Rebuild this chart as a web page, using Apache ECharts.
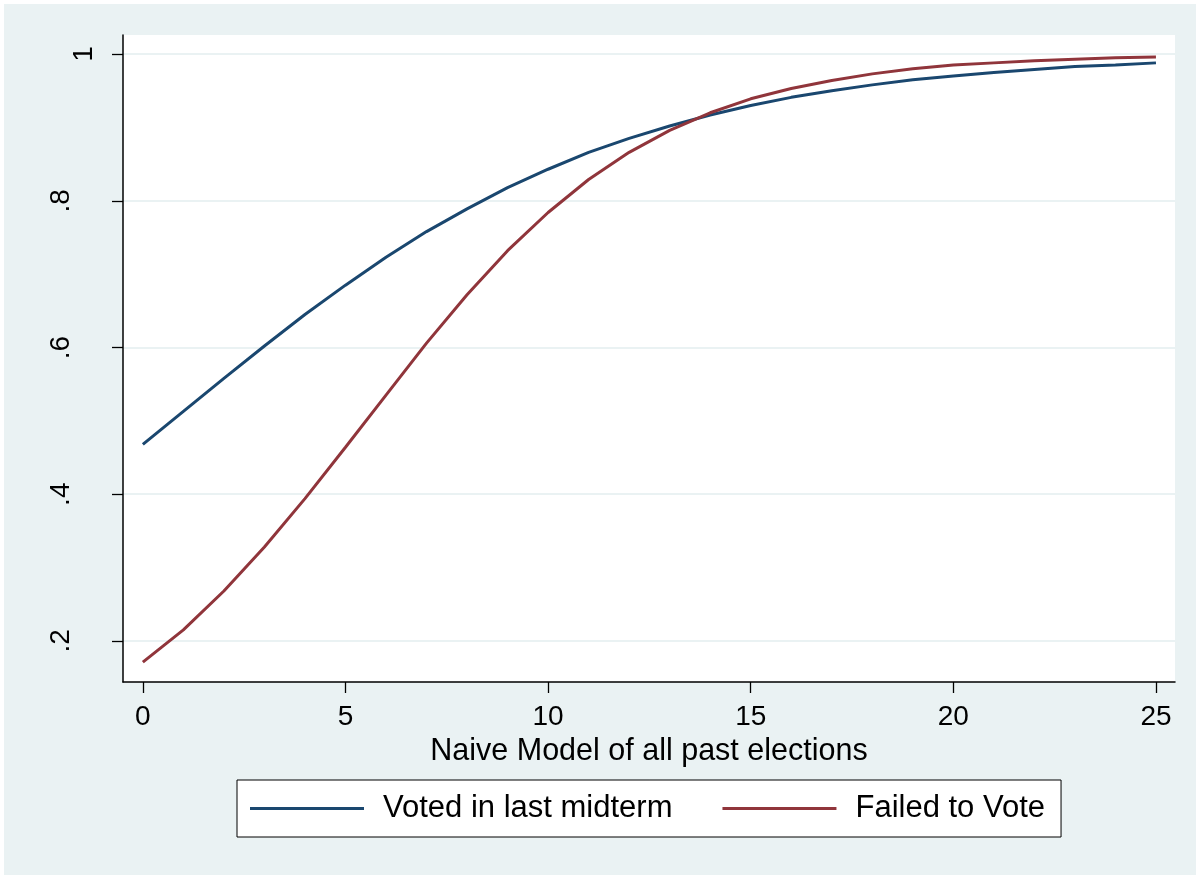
<!DOCTYPE html>
<html>
<head>
<meta charset="utf-8">
<script src="https://cdn.jsdelivr.net/npm/echarts@6/dist/echarts.min.js"></script>
<style>
  html, body { margin: 0; padding: 0; background: #ffffff; }
  #chart { width: 1196px; height: 875px; }
</style>
</head>
<body>
<div id="chart"></div>
<script>
// Predicted probability of voting by number of past elections (naive model)
const elections = [0,1,2,3,4,5,6,7,8,9,10,11,12,13,14,15,16,17,18,19,20,21,22,23,24,25];
const votedLastMidterm = [0.468,0.513,0.558,0.602,0.645,0.685,0.723,0.758,0.789,0.818,0.843,0.866,0.885,0.902,0.917,0.930,0.941,0.950,0.958,0.965,0.970,0.975,0.979,0.983,0.985,0.988];
const failedToVote = [0.171,0.215,0.268,0.328,0.394,0.464,0.535,0.606,0.672,0.732,0.784,0.829,0.866,0.896,0.920,0.939,0.953,0.964,0.973,0.980,0.985,0.988,0.991,0.993,0.995,0.996];
const xTicks = [0,5,10,15,20,25];
const yTicks = [0.2,0.4,0.6,0.8,1];
const yTickLabels = ['.2','.4','.6','.8','1'];
const seriesNames = ['Voted in last midterm','Failed to Vote'];
const xTitle = 'Naive Model of all past elections';

const FONT = '"Liberation Sans", Arial, sans-serif';
const BLUE = '#1A476F';
const RED = '#90353B';
const BG = '#EAF2F3';

const chart = echarts.init(document.getElementById('chart'), null, { renderer: 'canvas' });

const toPairs = (xs, ys) => xs.map((x, i) => [x, ys[i]]);

chart.setOption({
  animation: false,
  backgroundColor: '#ffffff',
  graphic: [{
    type: 'rect', z: -10, silent: true,
    shape: { x: 4, y: 4, width: 1192, height: 871 },
    style: { fill: BG }
  }],
  grid: {
    left: 123, top: 35, right: 21, bottom: 193,
    show: true, backgroundColor: '#ffffff', borderWidth: 0
  },
  xAxis: {
    type: 'value', min: -0.49, max: 25.47,
    name: xTitle, nameLocation: 'middle', nameGap: 49,
    nameTextStyle: { fontFamily: FONT, fontSize: 30.5, color: '#000' },
    axisLine: { show: true, onZero: false, lineStyle: { color: '#000', width: 1.5 } },
    axisTick: { show: true, length: 11, customValues: xTicks, lineStyle: { color: '#000', width: 1.3 } },
    axisLabel: { customValues: xTicks, margin: 21, fontFamily: FONT, fontSize: 28, color: '#000' },
    splitLine: { show: false }
  },
  yAxis: {
    type: 'value', min: 0.144, max: 1.026,
    axisLine: { show: true, onZero: false, lineStyle: { color: '#000', width: 1.5 } },
    axisTick: { show: true, length: 11, customValues: yTicks, lineStyle: { color: '#000', width: 1.3 } },
    axisLabel: {
      customValues: yTicks, rotate: 90, margin: 25,
      fontFamily: FONT, fontSize: 28, color: '#000',
      formatter: v => {
        const i = yTicks.findIndex(t => Math.abs(t - v) < 1e-9);
        const s = i >= 0 ? yTickLabels[i] : String(v);
        return s.length === 1 ? '{one|' + s + '}' : '{two|' + s + '}';
      },
      rich: {
        one: { fontFamily: FONT, fontSize: 28, color: '#000', padding: [0, 0, 0, 0] },
        two: { fontFamily: FONT, fontSize: 28, color: '#000', padding: [0, 0, 23, 0] }
      }
    },
    splitLine: { show: true, lineStyle: { color: BG, width: 2 } }
  },
  legend: {
    left: 237, top: 780,
    orient: 'horizontal',
    backgroundColor: '#ffffff', borderColor: '#000', borderWidth: 1, borderRadius: 0,
    padding: [13, 16, 13, 13],
    itemWidth: 114, itemHeight: 3, itemGap: 50,
    icon: 'rect',
    textStyle: { fontFamily: FONT, fontSize: 31, color: '#000', padding: [0, 0, 0, 14], lineHeight: 30 },
    data: seriesNames
  },
  series: [
    {
      name: seriesNames[0], type: 'line', data: toPairs(elections, votedLastMidterm),
      showSymbol: false, symbol: 'none', smooth: false,
      lineStyle: { color: BLUE, width: 3 }, itemStyle: { color: BLUE }
    },
    {
      name: seriesNames[1], type: 'line', data: toPairs(elections, failedToVote),
      showSymbol: false, symbol: 'none', smooth: false,
      lineStyle: { color: RED, width: 3 }, itemStyle: { color: RED }
    }
  ]
});
</script>
</body>
</html>
